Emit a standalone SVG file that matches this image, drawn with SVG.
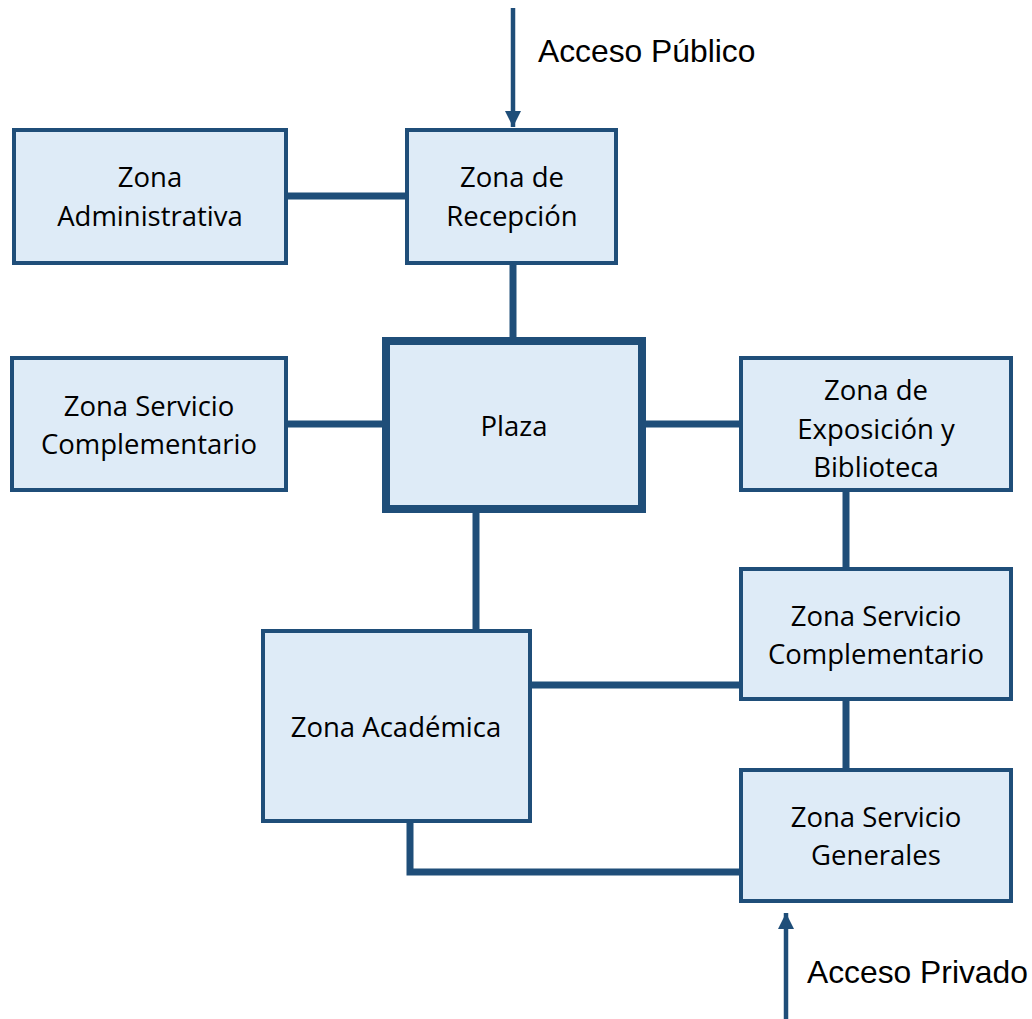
<svg xmlns="http://www.w3.org/2000/svg" width="1032" height="1019" viewBox="0 0 1032 1019">
<style>
.box{fill:#DEEBF7;stroke:#1F4E79;stroke-width:4}
.big{stroke-width:8}
.lbl{font-family:"Open Sans","Noto Sans",sans-serif;font-size:27.5px;fill:#000;text-anchor:middle}
.acc{font-family:"Liberation Sans",Arial,sans-serif;font-size:31.8px;fill:#000}
.con{stroke:#1F4E79;stroke-width:7;fill:none}
.arr{stroke:#1F4E79;stroke-width:4.5;fill:none}
</style>
<defs>
<marker id="ah" viewBox="0 0 10 10" refX="10" refY="5" markerWidth="16" markerHeight="16" markerUnits="userSpaceOnUse" orient="auto">
<path d="M0,0 L10,5 L0,10 Z" fill="#1F4E79"/>
</marker>
</defs>
<g id="connectors">
<line class="con" x1="288" y1="196" x2="405" y2="196"/>
<line class="con" x1="513" y1="264" x2="513" y2="338"/>
<line class="con" x1="288" y1="424" x2="383" y2="424"/>
<line class="con" x1="645" y1="424" x2="739" y2="424"/>
<line class="con" x1="476" y1="512" x2="476" y2="629"/>
<line class="con" x1="846" y1="492" x2="846" y2="567"/>
<line class="con" x1="532" y1="685" x2="739" y2="685"/>
<line class="con" x1="846" y1="701" x2="846" y2="768"/>
<polyline class="con" points="410,823 410,872 739,872"/>
<line class="arr" x1="513" y1="8" x2="513" y2="127" marker-end="url(#ah)"/>
<line class="arr" x1="786" y1="1019" x2="786" y2="913" marker-end="url(#ah)"/>
</g>
<g id="acceso-publico"><text class="acc" x="538" y="62">Acceso Público</text></g>
<g id="acceso-privado"><text class="acc" x="807" y="983">Acceso Privado</text></g>
<g id="zona-administrativa">
<rect class="box" x="14" y="130" width="272" height="133"/>
<text class="lbl" x="150" y="187">Zona</text>
<text class="lbl" x="150" y="226">Administrativa</text>
</g>
<g id="zona-recepcion">
<rect class="box" x="407" y="130" width="209" height="133"/>
<text class="lbl" x="512" y="187">Zona de</text>
<text class="lbl" x="512" y="226">Recepción</text>
</g>
<g id="plaza">
<rect class="box big" x="386" y="341" width="256" height="168"/>
<text class="lbl" x="514" y="436">Plaza</text>
</g>
<g id="zona-servicio-complementario-1">
<rect class="box" x="12" y="358" width="274" height="132"/>
<text class="lbl" x="149" y="416">Zona Servicio</text>
<text class="lbl" x="149" y="454">Complementario</text>
</g>
<g id="zona-exposicion">
<rect class="box" x="741" y="358" width="270" height="132"/>
<text class="lbl" x="876" y="400">Zona de</text>
<text class="lbl" x="876" y="439">Exposición y</text>
<text class="lbl" x="876" y="477">Biblioteca</text>
</g>
<g id="zona-servicio-complementario-2">
<rect class="box" x="741" y="569" width="270" height="130"/>
<text class="lbl" x="876" y="626">Zona Servicio</text>
<text class="lbl" x="876" y="664">Complementario</text>
</g>
<g id="zona-academica">
<rect class="box" x="263" y="631" width="267" height="190"/>
<text class="lbl" x="396" y="737">Zona Académica</text>
</g>
<g id="zona-servicio-generales">
<rect class="box" x="741" y="770" width="270" height="131"/>
<text class="lbl" x="876" y="827">Zona Servicio</text>
<text class="lbl" x="876" y="865">Generales</text>
</g>
</svg>
